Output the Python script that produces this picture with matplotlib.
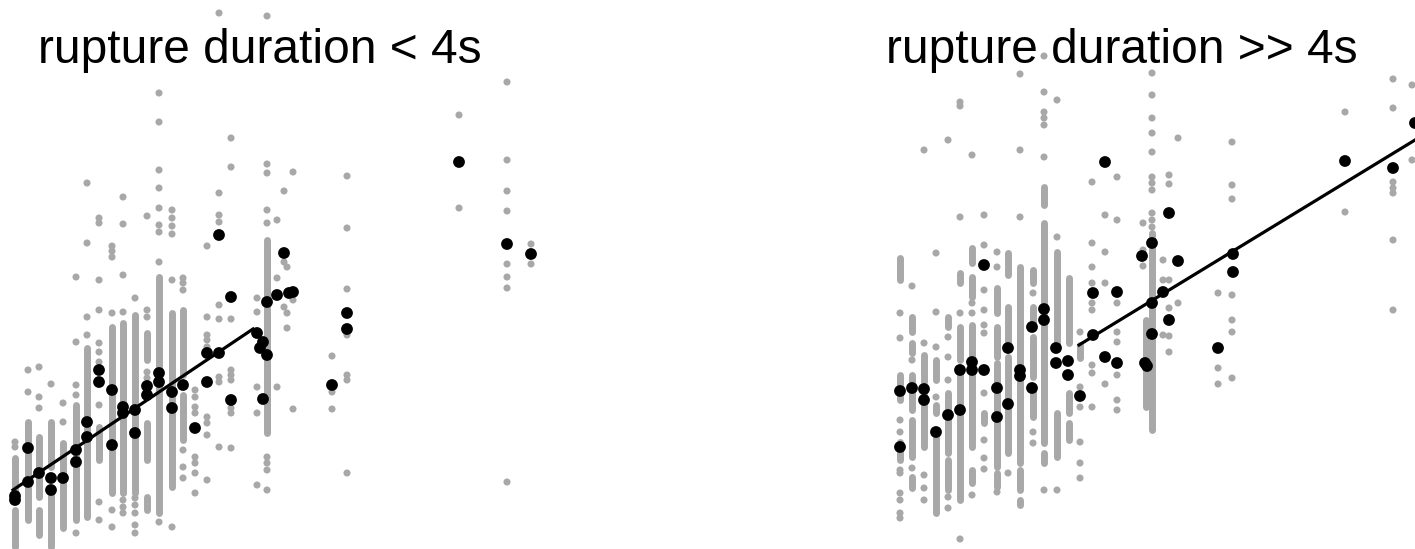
import matplotlib
matplotlib.use("Agg")
import matplotlib.pyplot as plt

plt.rcParams['font.family'] = ['Liberation Sans', 'DejaVu Sans']

# ----------------------
# Data (picture units, y grows downward)
# ----------------------
left_title = "rupture duration < 4s"
right_title = "rupture duration >> 4s"

# dense stripes of grey points: (x, top, bottom)
left_runs = [
    (15, 458, 493), (15, 510, 547), (28, 422, 520), (39, 437, 497), (39, 510, 535),
    (51, 422, 467), (51, 493, 547), (63, 443, 528), (76, 405, 520), (87, 348, 517),
    (99, 427, 460), (112, 327, 493), (123, 323, 493), (135, 315, 493),
    (147, 333, 360), (147, 423, 460), (147, 497, 510), (159, 277, 513),
    (172, 313, 487), (183, 310, 375), (183, 395, 440), (267, 240, 433),
]

# single grey points, per column
left_cols = {
    15: [442, 447],
    28: [370, 392],
    39: [367, 397, 408],
    51: [384],
    63: [403, 422],
    76: [277, 342, 385, 395, 533],
    87: [183, 243, 317, 335],
    99: [218, 223, 280, 310, 343, 352, 362, 405, 502, 520],
    112: [246, 251, 257, 313, 510, 527],
    123: [197, 224, 275, 312, 500, 507, 513],
    135: [298, 498, 505, 513, 525, 533],
    147: [216, 310, 317, 372, 378],
    159: [93, 122, 170, 188, 208, 225, 232, 262, 522],
    172: [210, 218, 226, 234, 280, 527],
    183: [278, 283, 290, 450, 467, 478],
    195: [390, 397, 407, 413, 457, 463, 473, 493],
    207: [246, 317, 335, 340, 347, 417, 423, 435, 480],
    219: [13, 193, 215, 222, 305, 319, 377, 382, 447],
    231: [138, 167, 319, 370, 375, 380, 408, 413, 448],
    257: [298, 312, 387, 413, 485],
    267: [16, 164, 173, 210, 223, 457, 463, 470, 490],
    277: [220, 278, 387],
    284: [191, 262, 307],
    287: [267, 313, 328],
    293: [172, 300, 409],
    332: [356, 392, 409],
    347: [176, 228, 289, 335, 375, 380, 473],
    459: [115, 208],
    507: [82, 160, 191, 211, 264, 277, 288, 482],
    531: [244, 264],
}

left_black_x = [15, 15, 28, 28, 39, 51, 51, 63, 76, 76, 87, 87, 99, 99, 112, 112,
                123, 123, 135, 135, 147, 147, 159, 159, 172, 172, 183, 195, 207, 207,
                219, 219, 231, 231, 257, 260, 263, 267, 263, 267, 277, 284, 289, 293,
                332, 347, 347, 459, 507, 531]
left_black_y = [496, 500, 448, 482, 473, 478, 490, 478, 450, 462, 422, 437, 370, 382,
                390, 445, 407, 413, 410, 433, 386, 395, 373, 382, 392, 408, 385, 428,
                353, 382, 235, 353, 297, 400, 333, 348, 342, 355, 399, 302, 295, 253,
                293, 292, 385, 313, 329, 162, 244, 254]

left_fit_x = [13, 253]
left_fit_y = [490, 329]

right_runs = [
    (900, 258, 280), (900, 375, 400), (900, 442, 460),
    (912, 317, 332), (912, 343, 353), (912, 375, 410), (912, 420, 457), (912, 477, 488),
    (924, 355, 382), (924, 393, 447),
    (936, 360, 380), (936, 405, 413), (936, 437, 513),
    (948, 317, 327), (948, 393, 453), (948, 460, 490),
    (960, 273, 283), (960, 327, 360), (960, 373, 500),
    (972, 248, 263), (972, 277, 297), (972, 325, 447), (972, 470, 483),
    (984, 413, 423),
    (997, 288, 313), (997, 327, 357), (997, 363, 467), (997, 473, 487),
    (1008, 253, 275), (1008, 307, 343), (1008, 357, 453),
    (1020, 267, 370), (1020, 380, 463), (1020, 470, 490), (1020, 500, 505),
    (1033, 270, 283), (1033, 307, 323), (1033, 337, 377), (1033, 390, 417),
    (1044, 187, 205), (1044, 223, 443), (1044, 453, 463),
    (1057, 252, 347), (1057, 413, 457),
    (1069, 278, 343), (1069, 393, 413), (1069, 423, 440),
    (1080, 345, 358),
    (1146, 320, 407), (1152, 233, 430),
]

right_cols = {
    900: [313, 338, 420, 432, 470, 473, 493, 500, 513, 518],
    912: [286, 360, 468],
    924: [150, 343, 475, 488, 500],
    936: [253, 312, 347, 397],
    948: [140, 337, 357, 380, 497, 508],
    960: [102, 106, 217, 313, 539],
    972: [155, 303, 313, 495],
    984: [215, 245, 290, 310, 325, 333, 393, 440, 458, 469],
    997: [252, 267, 492],
    1008: [473],
    1020: [74, 150, 217],
    1033: [293, 432, 443],
    1044: [56, 92, 112, 118, 125, 157, 490],
    1057: [100, 237, 490],
    1080: [332, 387, 407, 442, 463, 478],
    1092: [182, 243, 267, 283, 303, 310, 365, 373, 407],
    1105: [215, 252, 283, 384],
    1117: [177, 220, 303, 332, 342, 375, 400, 410],
    1143: [223, 250, 266],
    1152: [73, 95, 118, 133, 152, 177, 183, 190, 213, 220, 227],
    1163: [260, 280, 335],
    1169: [175, 184, 280, 308, 336, 352],
    1178: [138, 303],
    1218: [293, 368, 384],
    1232: [142, 185, 199, 295, 320, 332, 378],
    1345: [112, 212],
    1393: [79, 108, 182, 188, 193, 240, 310],
    1412: [85, 160],
}

right_black_x = [900, 900, 912, 924, 924, 936, 948, 960, 960, 972, 972, 984, 984, 997,
                 997, 1008, 1008, 1020, 1020, 1032, 1032, 1044, 1044, 1056, 1056, 1068,
                 1068, 1080, 1093, 1093, 1105, 1105, 1117, 1117, 1145, 1147, 1142, 1152,
                 1152, 1152, 1163, 1169, 1169, 1178, 1218, 1233, 1233, 1345, 1393, 1415]
right_black_y = [391, 447, 388, 389, 400, 432, 415, 370, 410, 362, 370, 265, 370, 388,
                 417, 348, 404, 370, 376, 327, 388, 309, 320, 348, 363, 361, 375, 396,
                 293, 335, 357, 162, 292, 363, 363, 366, 256, 243, 303, 334, 292, 213,
                 320, 261, 348, 254, 272, 161, 168, 123]

right_fit_x = [1079, 1415]
right_fit_y = [345, 140]

# ----------------------
# Plot
# ----------------------
GREY = '#a8a8a8'
fig = plt.figure(figsize=(14.15, 5.49), dpi=100)


def draw_panel(ax, runs, cols, bx, by, fx, fy, title, tx, x0, x1):
    for x, top, bottom in runs:
        ax.plot([x, x], [top, bottom], color=GREY, lw=5.0,
                solid_capstyle='round', zorder=1)
    gx = [x for x, ys in cols.items() for _ in ys]
    gy = [y for ys in cols.values() for y in ys]
    ax.scatter(gx, gy, s=26, color=GREY, edgecolors='none', zorder=1)
    ax.plot(fx, fy, color='black', lw=2.3, zorder=2)
    ax.scatter(bx, by, s=72, color='black', edgecolors='none', zorder=3)
    ax.text(tx, 63, title, fontsize=34.5, color='black', va='baseline', zorder=4)
    ax.set_xlim(x0, x1)
    ax.set_ylim(549, 0)
    ax.axis('off')


ax1 = fig.add_axes([0, 0, 700 / 1415, 1])
draw_panel(ax1, left_runs, left_cols, left_black_x, left_black_y,
           left_fit_x, left_fit_y, left_title, 38, 0, 700)

ax2 = fig.add_axes([700 / 1415, 0, 715 / 1415, 1])
draw_panel(ax2, right_runs, right_cols, right_black_x, right_black_y,
           right_fit_x, right_fit_y, right_title, 886, 700, 1415)

fig.savefig("out.png", dpi=100)
